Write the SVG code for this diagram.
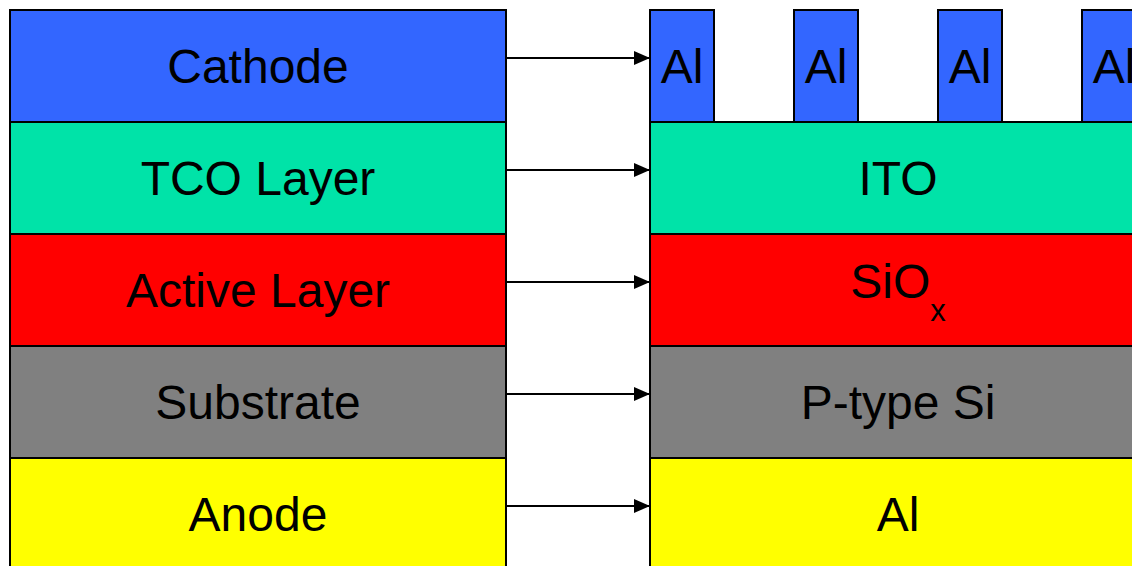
<svg xmlns="http://www.w3.org/2000/svg" width="1132" height="566" viewBox="0 0 1132 566">
  <defs>
    <marker id="arrowhead" viewBox="0 0 16 14" refX="16" refY="7" markerWidth="16" markerHeight="14" markerUnits="userSpaceOnUse" orient="auto">
      <path d="M0,0 L16,7 L0,14 Z" fill="#000"/>
    </marker>
  </defs>
  <style>
    .layer { stroke: #000; stroke-width: 2; }
    .cathode { fill: #3366FF; }
    .tco { fill: #00E3A8; }
    .active { fill: #FF0000; }
    .substrate { fill: #808080; }
    .anode { fill: #FFFF00; }
    .label { font-family: "Liberation Sans", Arial, sans-serif; font-size: 48px; fill: #000; text-anchor: middle; }
    .sub { font-size: 31px; }
    .conn { stroke: #000; stroke-width: 1.8; fill: none; marker-end: url(#arrowhead); }
  </style>

  <rect width="1132" height="566" fill="#fff"/>

  <!-- Generic layer stack -->
  <g id="cathode">
    <rect class="layer cathode" x="10" y="10" width="496" height="112"/>
    <text class="label" x="258" y="83">Cathode</text>
  </g>
  <g id="tco-layer">
    <rect class="layer tco" x="10" y="122" width="496" height="112"/>
    <text class="label" x="258" y="195">TCO Layer</text>
  </g>
  <g id="active-layer">
    <rect class="layer active" x="10" y="234" width="496" height="112"/>
    <text class="label" x="258" y="307">Active Layer</text>
  </g>
  <g id="substrate">
    <rect class="layer substrate" x="10" y="346" width="496" height="112"/>
    <text class="label" x="258" y="419">Substrate</text>
  </g>
  <g id="anode">
    <rect class="layer anode" x="10" y="458" width="496" height="130"/>
    <text class="label" x="258" y="531">Anode</text>
  </g>

  <!-- Device-specific stack -->
  <g id="al-fingers">
    <rect class="layer cathode" x="650" y="10" width="64" height="112"/>
    <text class="label" x="682" y="83">Al</text>
    <rect class="layer cathode" x="794" y="10" width="64" height="112"/>
    <text class="label" x="826" y="83">Al</text>
    <rect class="layer cathode" x="938" y="10" width="64" height="112"/>
    <text class="label" x="970" y="83">Al</text>
    <rect class="layer cathode" x="1082" y="10" width="64" height="112"/>
    <text class="label" x="1114" y="83">Al</text>
  </g>
  <g id="ito">
    <rect class="layer tco" x="650" y="122" width="496" height="112"/>
    <text class="label" x="898" y="195">ITO</text>
  </g>
  <g id="siox">
    <rect class="layer active" x="650" y="234" width="496" height="112"/>
    <text class="label" x="898" y="298">SiO<tspan class="sub" dy="23">x</tspan></text>
  </g>
  <g id="p-type-si">
    <rect class="layer substrate" x="650" y="346" width="496" height="112"/>
    <text class="label" x="898" y="419">P-type Si</text>
  </g>
  <g id="al-back">
    <rect class="layer anode" x="650" y="458" width="496" height="130"/>
    <text class="label" x="898" y="531">Al</text>
  </g>

  <!-- Mapping arrows -->
  <g id="connectors">
    <line class="conn" x1="506" y1="58" x2="650" y2="58"/>
    <line class="conn" x1="506" y1="170" x2="650" y2="170"/>
    <line class="conn" x1="506" y1="282" x2="650" y2="282"/>
    <line class="conn" x1="506" y1="394" x2="650" y2="394"/>
    <line class="conn" x1="506" y1="506" x2="650" y2="506"/>
  </g>
</svg>
